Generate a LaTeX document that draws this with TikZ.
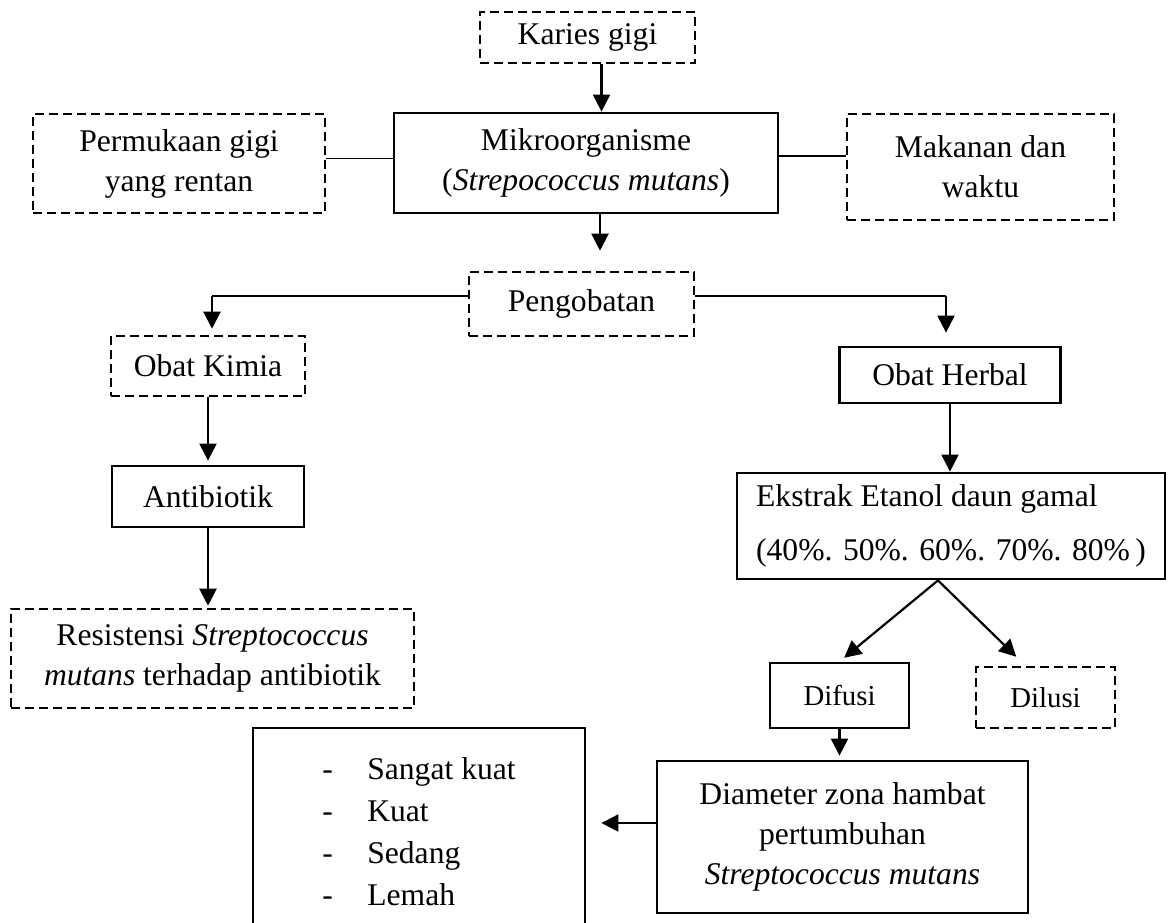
\documentclass[tikz,border=0pt]{standalone}
\usepackage{fontspec}
\setmainfont{Liberation Serif}
\usetikzlibrary{arrows.meta,positioning}

\begin{document}
\begin{tikzpicture}[
            x=0.5pt, y=-0.5pt,
            every node/.style={align=center, inner sep=0pt, font=\fontsize{15.8}{20}\selectfont},
            solidbox/.style={draw, line width=1.4pt},
            dashbox/.style={draw, line width=1.3pt, dash pattern=on 4.5pt off 2.5pt},
            arr/.style={-{Triangle[length=8.5pt,width=8.5pt]}, line width=1.1pt},
            link/.style={line width=0.6pt}
        ]
        \useasboundingbox (0,0) rectangle (1168,922);

        % Nodes
        \node (karies) [dashbox, minimum width=107.5pt, minimum height=25.5pt] at (587.5,37.5) {Karies gigi};
        \node (mikro) [solidbox, minimum width=192pt, minimum height=50pt] at (586,163) {Mikroorganisme\\(\textit{Strepococcus mutans})};
        \node (permukaan) [dashbox, minimum width=146pt, minimum height=49.5pt] at (179,163.5) {Permukaan gigi\\yang rentan};
        \node (makanan) [dashbox, minimum width=133.5pt, minimum height=53pt] at (980.5,167) {Makanan dan\\waktu};
        \node (pengobatan) [dashbox, minimum width=112.5pt, minimum height=32pt] at (581.5,304) {Pengobatan};
        \node (kimia) [dashbox, minimum width=97pt, minimum height=30pt] at (208,366) {Obat Kimia};
        \node (herbal) [solidbox, minimum width=110.5pt, minimum height=28pt] at (950,375) {Obat Herbal};
        \node (antibiotik) [solidbox, minimum width=96pt, minimum height=30.5pt] at (208,496.5) {Antibiotik};
        \node (resistensi) [dashbox, minimum width=201.5pt, minimum height=49.5pt] at (212.5,658.5) {Resistensi \textit{Streptococcus}\\\textit{mutans} terhadap antibiotik};
        \node (ekstrak) [solidbox, minimum width=214pt, minimum height=53pt, align=left, font=\fontsize{15.8}{27}\selectfont] at (951,526) {Ekstrak Etanol daun gamal\\(40\%. 50\%. 60\%. 70\%. 80\%\,)};
        \node (difusi) [solidbox, minimum width=69.5pt, minimum height=32.5pt, font=\fontsize{14.4}{18}\selectfont] at (839.5,695.5) {Difusi};
        \node (dilusi) [dashbox, minimum width=69.5pt, minimum height=30.5pt, font=\fontsize{14.4}{18}\selectfont] at (1045.5,697.5) {Dilusi};
        \node (diameter) [solidbox, minimum width=185.5pt, minimum height=76pt] at (842.5,837) {Diameter zona hambat\\pertumbuhan\\\textit{Streptococcus mutans}};
        \node (kategori) [solidbox, minimum width=166pt, minimum height=103.5pt, align=left, font=\fontsize{15.8}{21}\selectfont] at (419,831.5) {\makebox[22.5pt][l]{-}Sangat kuat\\\makebox[22.5pt][l]{-}Kuat\\\makebox[22.5pt][l]{-}Sedang\\\makebox[22.5pt][l]{-}Lemah};

        \coordinate (belokkiri) at (212,296);
        \coordinate (belokkanan) at (946,296);

        % Arrows
        \draw[arr] ([xshift=7pt]karies.south) -- ([xshift=7pt]karies.south |- mikro.north);
        \draw[link] ([yshift=2.5pt]permukaan.east) -- ([yshift=2.5pt]permukaan.east -| mikro.west);
        \draw[link] ([yshift=3.5pt]mikro.east) -- ([yshift=3.5pt]mikro.east -| makanan.west);
        \draw[arr, shorten >=10pt] ([xshift=7pt]mikro.south) -- ([xshift=7pt]mikro.south |- pengobatan.north);
        \draw[link] ([yshift=4pt]pengobatan.west) -- (belokkiri);
        \draw[link] ([yshift=4pt]pengobatan.east) -- (belokkanan);
        \draw[arr, shorten >=3pt] (belokkiri) -- (belokkiri |- kimia.north);
        \draw[arr, shorten >=6.5pt] (belokkanan) -- (belokkanan |- herbal.north);
        \draw[arr, shorten >=2pt] (kimia.south) -- (antibiotik.north);
        \draw[arr, shorten >=1pt] (antibiotik.south) -- (antibiotik.south |- resistensi.north);
        \draw[arr] (herbal.south) -- (herbal.south |- ekstrak.north);
        \draw[arr, shorten >=3pt] ([xshift=-6.5pt]ekstrak.south) -- (difusi.north);
        \draw[arr, shorten >=6.4pt] ([xshift=-6.5pt]ekstrak.south) -- ([xshift=-10pt]dilusi.north);
        \draw[arr, shorten >=2pt] (difusi.south) -- (difusi.south |- diameter.north);
        \draw[arr, shorten >=7.5pt] ([yshift=7pt]diameter.west) -- ([yshift=7pt]diameter.west -| kategori.east);
\end{tikzpicture}
\end{document}
